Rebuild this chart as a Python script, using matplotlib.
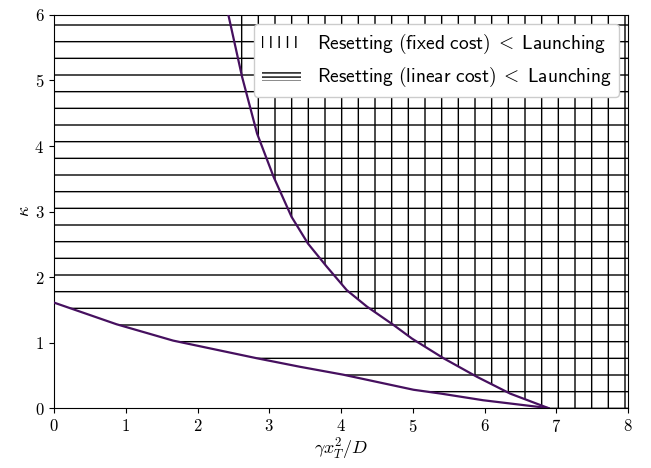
import numpy as np
import matplotlib
matplotlib.use('Agg')
import matplotlib.pyplot as plt
from matplotlib.patches import Patch

plt.rcParams['font.family'] = 'serif'
plt.rcParams['font.serif'] = ['cmr10']
plt.rcParams['mathtext.fontset'] = 'cm'
plt.rcParams['axes.formatter.use_mathtext'] = True
plt.rcParams['hatch.linewidth'] = 1.0

# boundary: resetting with fixed cost beats launching (right of this curve)
fixed_x = [6.89, 6.36, 5.89, 5.43, 4.99, 4.73, 4.36, 4.08, 3.80, 3.54, 3.31, 3.06, 2.83, 2.62, 2.43]
fixed_y = [0.00, 0.22, 0.48, 0.76, 1.06, 1.27, 1.55, 1.80, 2.16, 2.51, 2.92, 3.53, 4.19, 5.06, 6.00]

# boundary: resetting with linear cost beats launching (above this curve)
linear_x = [0.00, 0.87, 1.66, 2.83, 3.43, 4.03, 5.01, 5.40, 5.98, 6.89]
linear_y = [1.61, 1.28, 1.03, 0.76, 0.63, 0.51, 0.28, 0.22, 0.12, 0.00]

xmax, ymax = 8, 6
line_color = '#46105f'

fig = plt.figure(figsize=(6.51, 4.68), dpi=100)
ax = fig.add_axes([0.083, 0.128, 0.8817, 0.84])

# regions
ax.fill_between(linear_x + [xmax], linear_y + [0], ymax, facecolor='none',
                edgecolor='black', linewidth=0, hatch='-')
ax.fill_betweenx(fixed_y, fixed_x, xmax, facecolor='none',
                 edgecolor='black', linewidth=0, hatch='|')

ax.plot(fixed_x, fixed_y, color=line_color, lw=1.6, zorder=3)
ax.plot(linear_x, linear_y, color=line_color, lw=1.6, zorder=3)

ax.set_xlim(0, xmax)
ax.set_ylim(0, ymax)
ax.tick_params(labelsize=12)
ax.set_xlabel(r'$\gamma x_T^2/D$', fontsize=13, labelpad=1)
ax.set_ylabel(r'$\kappa$', fontsize=13, labelpad=2)

handles = [
    Patch(facecolor='white', edgecolor='black', linewidth=0, hatch='||',
          label=r'$\mathsf{Resetting\ (fixed\ cost)}\;<\;\mathsf{Launching}$'),
    Patch(facecolor='white', edgecolor='black', linewidth=0, hatch='----',
          label=r'$\mathsf{Resetting\ (linear\ cost)}\;<\;\mathsf{Launching}$'),
]
ax.legend(handles=handles, loc='upper right', fontsize=14, framealpha=1,
          borderaxespad=0.45, handlelength=2.0, handleheight=0.55)

fig.savefig('out.png', dpi=100)
